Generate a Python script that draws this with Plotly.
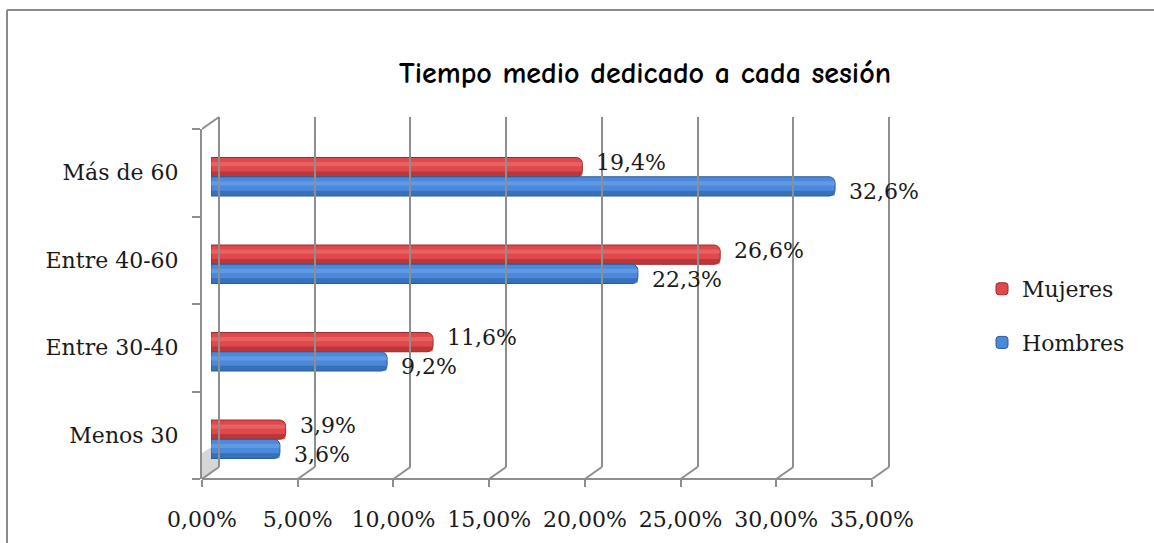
import plotly.graph_objects as go

# ---- data ----
categories = ["Menos 30", "Entre 30-40", "Entre 40-60", "Más de 60"]
mujeres = [3.9, 11.6, 26.6, 19.4]
hombres = [3.6, 9.2, 22.3, 32.6]
x_ticks = [0, 5, 10, 15, 20, 25, 30, 35]
title_text = "Tiempo medio dedicado a cada sesión"

# ---- layout constants (pixels) ----
W, H = 1154, 543
E = 3                      # small extra so edge gridlines are kept
ML, MR, MT, MB = 202, 265 - E, 117, 64
PW = W - ML - MR
PH = H - MT - MB
DX, DY = 17, 12            # 3D depth offset
FRONT_W = 670              # width of front axis 0..35
XMAX = 35
PPU = FRONT_W / XMAX       # px per unit
BAR_SHIFT = 9

FONT = "DejaVu Serif"
GRID = "#8e8e8e"
RED = "#E0484B"
RED_D = "#9E2A2C"
RED_L = "#EE7A7A"
BLUE = "#4A89DC"
BLUE_D = "#2A5C9E"
BLUE_L = "#7AAAEA"


def lab(v):
    return f"{v:.1f}".replace(".", ",") + "%"


def tick_lab(v):
    return f"{v:.2f}".replace(".", ",") + "%"


fig = go.Figure()

bar_w = 0.22
off_m = -0.046
off_h = off_m - bar_w
strip = 0.06
hl = 0.05

# Mujeres
fig.add_trace(go.Bar(y=categories, x=mujeres, orientation="h", name="Mujeres",
                     legendgroup="m", offset=off_m, width=bar_w,
                     marker=dict(color=RED, line=dict(color=RED_D, width=1), cornerradius=6),
                     xaxis="x2", yaxis="y", hoverinfo="skip"))
fig.add_trace(go.Bar(y=categories, x=mujeres, orientation="h", showlegend=False,
                     legendgroup="m", offset=off_m, width=strip,
                     marker=dict(color=RED_D, opacity=0.55, line=dict(width=0), cornerradius=3),
                     xaxis="x2", yaxis="y", hoverinfo="skip"))
fig.add_trace(go.Bar(y=categories, x=mujeres, orientation="h", showlegend=False,
                     legendgroup="m", offset=off_m + bar_w - hl - 0.05, width=hl,
                     marker=dict(color=RED_L, opacity=0.5, line=dict(width=0), cornerradius=3),
                     xaxis="x2", yaxis="y", hoverinfo="skip"))
# Hombres
fig.add_trace(go.Bar(y=categories, x=hombres, orientation="h", name="Hombres",
                     legendgroup="h", offset=off_h, width=bar_w,
                     marker=dict(color=BLUE, line=dict(color=BLUE_D, width=1), cornerradius=6),
                     xaxis="x2", yaxis="y", hoverinfo="skip"))
fig.add_trace(go.Bar(y=categories, x=hombres, orientation="h", showlegend=False,
                     legendgroup="h", offset=off_h, width=strip,
                     marker=dict(color=BLUE_D, opacity=0.55, line=dict(width=0), cornerradius=3),
                     xaxis="x2", yaxis="y", hoverinfo="skip"))
fig.add_trace(go.Bar(y=categories, x=hombres, orientation="h", showlegend=False,
                     legendgroup="h", offset=off_h + bar_w - hl - 0.05, width=hl,
                     marker=dict(color=BLUE_L, opacity=0.5, line=dict(width=0), cornerradius=3),
                     xaxis="x2", yaxis="y", hoverinfo="skip"))

# dummy trace for back-plane axes
fig.add_trace(go.Scatter(x=[None], y=[None], xaxis="x3", yaxis="y3",
                         showlegend=False, hoverinfo="skip"))

# data labels
annotations = []
for c, v in zip(categories, mujeres):
    annotations.append(dict(x=v, y=c, xref="x2", yref="y", text=lab(v), showarrow=False,
                            xanchor="left", yanchor="middle", xshift=12, yshift=10,
                            font=dict(family=FONT, size=22, color="#1a1a1a")))
for c, v in zip(categories, hombres):
    annotations.append(dict(x=v, y=c, xref="x2", yref="y", text=lab(v), showarrow=False,
                            xanchor="left", yanchor="middle", xshift=12, yshift=-19,
                            font=dict(family=FONT, size=22, color="#1a1a1a")))

shapes = []
front_top = (PH - DY) / PH
# faint bar shadow on the left wall
shapes.append(dict(type="path", xref="x", yref="paper", xsizemode="pixel", ysizemode="pixel",
                   xanchor=0, yanchor=0, path="M0,0 L16,11 L16,36 L0,26 Z",
                   fillcolor="#d6d6d6", line=dict(width=0), layer="below"))
# floor front line
shapes.append(dict(type="line", xref="x", yref="paper", x0=0, x1=XMAX, y0=0, y1=0,
                   line=dict(color=GRID, width=2)))
# floor diagonals
for v in x_ticks:
    shapes.append(dict(type="line", xref="x", yref="paper", xsizemode="pixel", xanchor=v,
                       x0=0, x1=DX, y0=0, y1=DY / PH, line=dict(color=GRID, width=2)))
# top-left wall diagonal
shapes.append(dict(type="line", xref="x", yref="paper", xsizemode="pixel", xanchor=0,
                   x0=0, x1=DX, y0=front_top, y1=1, line=dict(color=GRID, width=2)))
# outer frame
shapes.append(dict(type="line", xref="paper", yref="paper",
                   x0=(7 - ML) / PW, x1=(7 - ML) / PW, y0=(PH + MT - 10) / PH, y1=-MB / PH - 0.05,
                   line=dict(color="#8a8a8a", width=2)))
shapes.append(dict(type="line", xref="paper", yref="paper",
                   x0=(7 - ML) / PW, x1=(W - ML) / PW + 0.05, y0=(PH + MT - 10) / PH, y1=(PH + MT - 10) / PH,
                   line=dict(color="#8a8a8a", width=2)))

fig.update_layout(
    width=W, height=H,
    margin=dict(l=ML, r=MR, t=MT, b=MB, pad=0),
    paper_bgcolor="white", plot_bgcolor="rgba(0,0,0,0)",
    separators=",.",
    barmode="overlay",
    showlegend=True,
    title=dict(text=title_text, x=645 / W, xanchor="center", y=1 - 72 / H, yanchor="middle",
               font=dict(family="Comic Sans MS, Comic Neue, DejaVu Sans", size=30, color="black",
                         weight="bold")),
    legend=dict(x=(982 - ML) / PW, xanchor="left", y=(H - MB - 316) / PH, yanchor="middle",
                traceorder="grouped", tracegroupgap=22,
                font=dict(family=FONT, size=22, color="#1a1a1a"),
                bgcolor="rgba(0,0,0,0)"),
    xaxis=dict(domain=[0, 1], range=[0, PW / PPU], tickvals=x_ticks,
               ticktext=[tick_lab(v) for v in x_ticks], ticks="outside", ticklen=7, tickwidth=2,
               tickcolor=GRID, showline=False, showgrid=False, zeroline=False,
               ticklabelstandoff=14, anchor="y",
               tickfont=dict(family=FONT, size=22, color="#1a1a1a")),
    yaxis=dict(domain=[0, front_top], type="category", categoryorder="array",
               categoryarray=categories, range=[-0.5, 3.5], ticks="outside",
               tickson="boundaries", ticklen=8, tickwidth=2, tickcolor=GRID,
               showline=True, linecolor=GRID, linewidth=2, showgrid=False,
               zeroline=False, anchor="x", ticklabelstandoff=17,
               tickfont=dict(family=FONT, size=22, color="#1a1a1a")),
    xaxis2=dict(domain=[BAR_SHIFT / PW, 1], range=[0, (PW - BAR_SHIFT) / PPU],
                anchor="y", visible=False),
    xaxis3=dict(domain=[(DX - E) / PW, 1], range=[-E / PPU, XMAX + E / PPU], tickvals=x_ticks,
                showgrid=True, gridcolor=GRID, gridwidth=2, showticklabels=False, ticks="",
                zeroline=False, showline=False, anchor="y3"),
    yaxis3=dict(domain=[DY / PH, 1], range=[0, 1], anchor="x3", visible=False,
                showgrid=False, zeroline=False),
    annotations=annotations,
    shapes=shapes,
)

fig.write_html("out.html", post_script="document.body.style.margin='0';",
               config={"displayModeBar": False})
